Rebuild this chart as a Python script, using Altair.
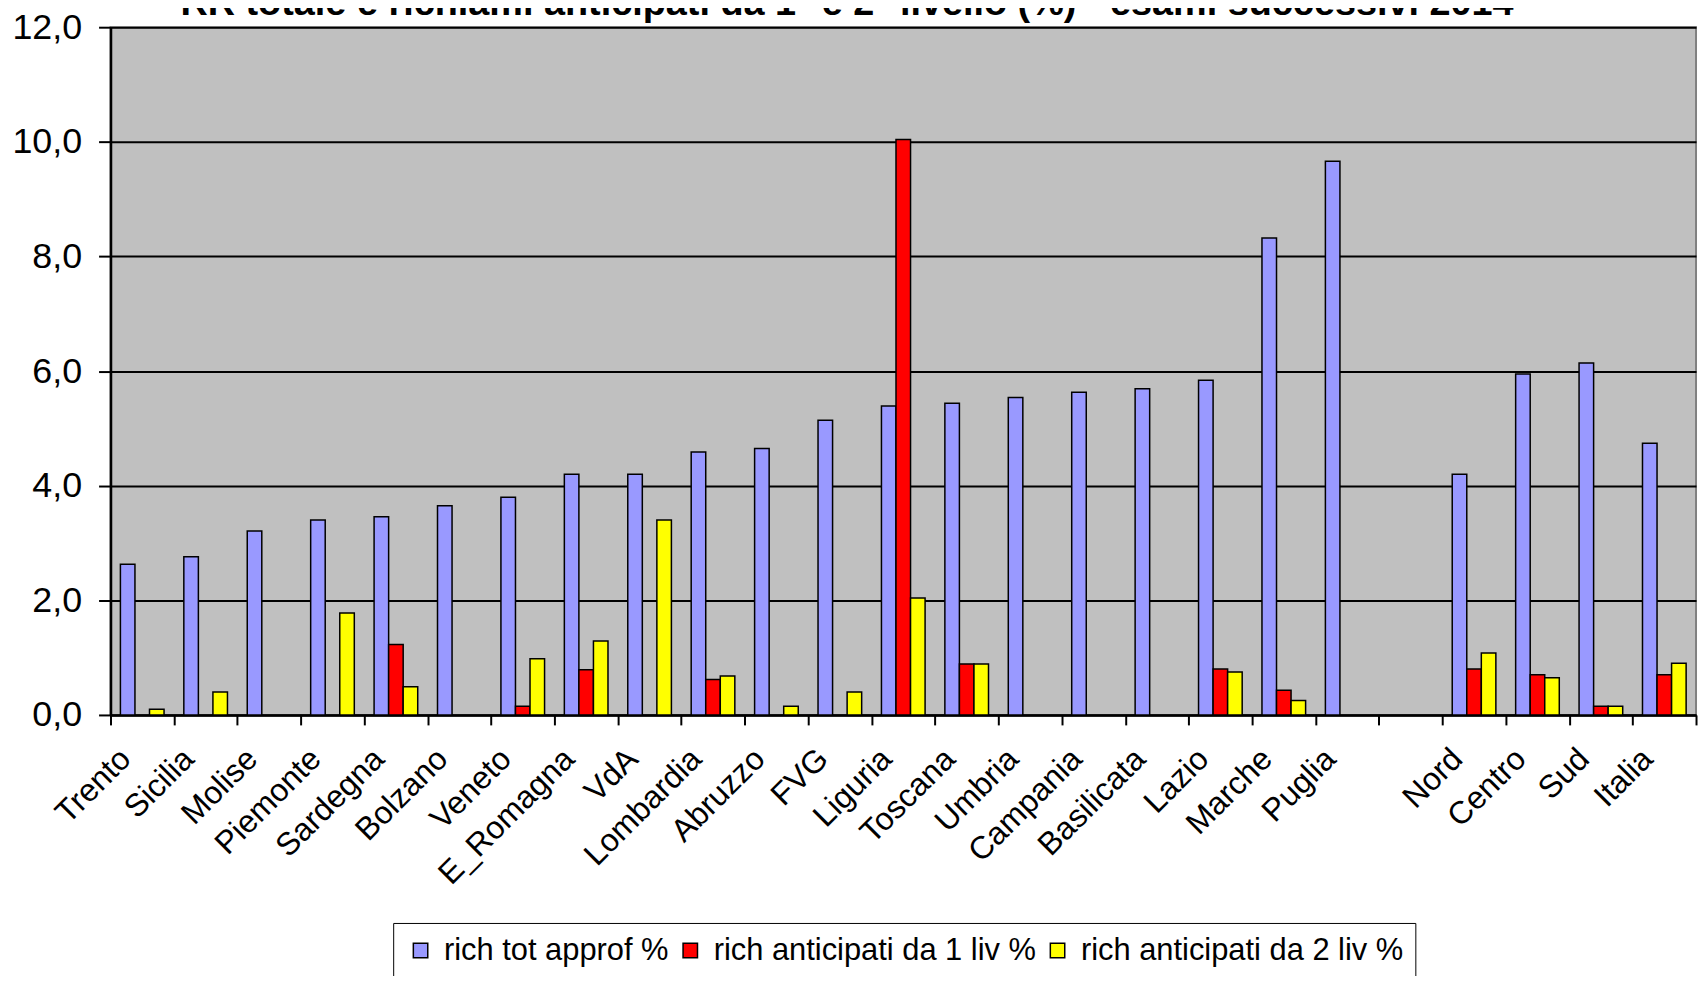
import altair as alt
import pandas as pd

categories = ["Trento", "Sicilia", "Molise", "Piemonte", "Sardegna", "Bolzano", "Veneto",
              "E_Romagna", "VdA", "Lombardia", "Abruzzo", "FVG", "Liguria", "Toscana",
              "Umbria", "Campania", "Basilicata", "Lazio", "Marche", "Puglia", "",
              "Nord", "Centro", "Sud", "Italia"]
rich_tot = [2.63, 2.76, 3.21, 3.40, 3.46, 3.65, 3.80, 4.20, 4.20, 4.59, 4.65, 5.14, 5.39,
            5.44, 5.54, 5.63, 5.69, 5.84, 8.32, 9.66, None, 4.20, 5.95, 6.14, 4.74]
rich_liv1 = [0, 0, 0, 0, 1.23, 0, 0.15, 0.79, 0, 0.62, 0, 0, 10.04,
             0.89, 0, 0, 0, 0.80, 0.43, 0, None, 0.80, 0.70, 0.15, 0.70]
rich_liv2 = [0.10, 0.40, 0, 1.78, 0.49, 0, 0.98, 1.29, 3.40, 0.68, 0.15, 0.40, 2.04,
             0.89, 0, 0, 0, 0.75, 0.25, 0, None, 1.08, 0.65, 0.15, 0.90]
series = ["rich tot approf %", "rich anticipati da 1 liv %", "rich anticipati da 2 liv %"]
colors = ["#9999FF", "#FF0000", "#FFFF00"]
title_text = "RR totale e richiami anticipati da 1° e 2° livello (%) - esami successivi 2014"

rows = []
for vals, s in zip([rich_tot, rich_liv1, rich_liv2], series):
    for c, v in zip(categories, vals):
        if v is not None and v > 0:
            rows.append({"cat": c, "serie": s, "value": v})
df = pd.DataFrame(rows)

FONT = "Liberation Sans"

bars = alt.Chart(df).mark_bar(stroke="black", strokeWidth=1.5).encode(
    x=alt.X("cat:N", sort=categories,
            scale=alt.Scale(domain=categories, paddingInner=0, paddingOuter=0),
            axis=alt.Axis(title=None, labelAngle=315, tickBand="extent", grid=False,
                          labelAlign="right", labelBaseline="top",
                          labelOffset=-28, labelPadding=18, tickSize=10, tickWidth=2,
                          tickColor="black", domainColor="black", domainWidth=2.5,
                          labelFont=FONT, labelFontSize=32, labelColor="black",
                          labelLimit=400)),
    xOffset=alt.XOffset("serie:N", sort=series,
                        scale=alt.Scale(domain=series, paddingInner=0, paddingOuter=0.68)),
    y=alt.Y("value:Q",
            scale=alt.Scale(domain=[0, 12], nice=False),
            axis=alt.Axis(title=None, values=[0, 2, 4, 6, 8, 10, 12],
                          labelExpr="replace(format(datum.value, '.1f'), '.', ',')",
                          grid=True, gridColor="black", gridWidth=2, gridOpacity=1,
                          tickSize=12, tickWidth=2, tickColor="black",
                          domainColor="black", domainWidth=2.5,
                          labelFont=FONT, labelFontSize=36, labelColor="black",
                          labelPadding=17)),
    color=alt.Color("serie:N", sort=series,
                    scale=alt.Scale(domain=series, range=colors),
                    legend=alt.Legend(title=None, orient="none", legendX=284, legendY=900,
                                      direction="horizontal", symbolType="square",
                                      symbolSize=210, symbolStrokeColor="black",
                                      symbolStrokeWidth=1.5, labelFont=FONT,
                                      labelFontSize=31, labelColor="black",
                                      labelLimit=500, labelOffset=8, columnPadding=6,
                                      padding=12, strokeColor="black",
                                      fillColor="white")),
)

title = alt.Chart(pd.DataFrame({"t": [title_text]})).mark_text(
    font=FONT, fontSize=38, fontWeight="bold", color="black",
    align="center", baseline="alphabetic"
).encode(
    x=alt.value(740), y=alt.value(-12), text="t:N"
)

chart = alt.layer(bars, title).properties(
    width=1593, height=691,
    autosize=alt.AutoSizeParams(type="none"),
    padding={"left": 103, "top": 17, "right": 4, "bottom": 260},
    background="white",
).configure_view(
    fill="#C0C0C0", stroke="#808080", strokeWidth=2
)

chart.save("out.html", embed_options={"renderer": "svg", "actions": False})
